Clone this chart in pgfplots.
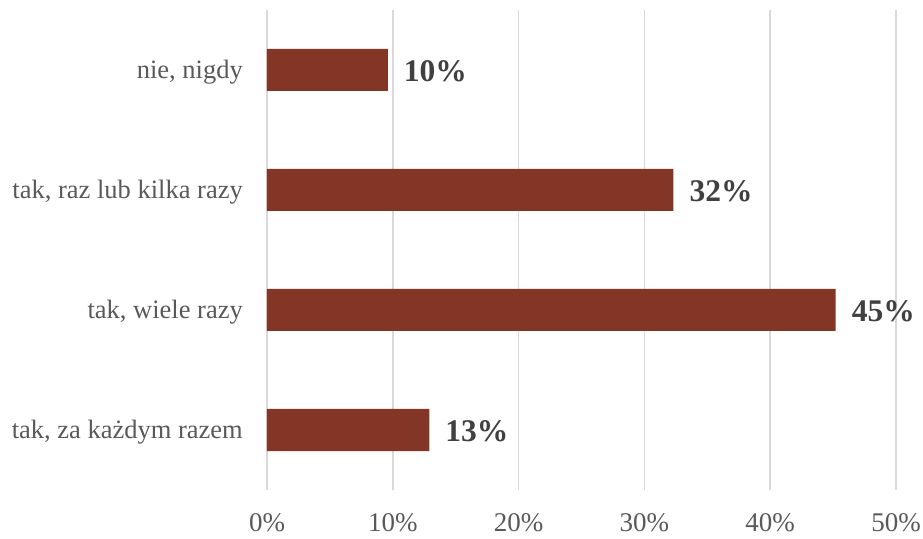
\documentclass[border=0pt]{standalone}
\usepackage{fontspec}
\setmainfont{Liberation Serif}
\usepackage{pgfplots}
\pgfplotsset{compat=1.18}
\definecolor{barc}{HTML}{843626}
\definecolor{gridc}{HTML}{D9D9D9}
\definecolor{tickc}{HTML}{595959}
\definecolor{labc}{HTML}{404040}
\begin{document}
\begin{tikzpicture}
\path[use as bounding box] (-267pt,-48pt) rectangle (656pt,490pt);
\begin{axis}[
  at={(0pt,0pt)}, anchor=south west,
  scale only axis,
  width=629pt, height=480pt,
  xbar,
  bar width=42pt,
  xmin=0, xmax=50,
  ymin=-0.5, ymax=3.5,
  xtick={0,10,20,30,40,50},
  xticklabel={\pgfmathprintnumber{\tick}\%},
  /pgf/number format/assume math mode=true,
  ytick={0,1,2,3},
  yticklabels={{tak, za każdym razem},{tak, wiele razy},{tak, raz lub kilka razy},{nie, nigdy}},
  xmajorgrids,
  major grid style={draw=gridc, line width=1.5pt},
  axis line style={draw=none},
  tick style={draw=none},
  major tick length=0pt,
  xticklabel style={font=\fontsize{27}{31}\selectfont, text=tickc, inner sep=0pt, anchor=north, yshift=-23pt},
  yticklabel style={font=\fontsize{26.5}{30}\selectfont, text=tickc, inner sep=0pt, anchor=base east, xshift=-24pt, yshift=-9pt},
  nodes near coords,
  point meta=explicit symbolic,
  every node near coord/.append style={font=\fontsize{31.5}{36}\selectfont\bfseries, text=labc, inner sep=0pt, anchor=base west, xshift=16pt, yshift=-11.5pt},
]
\addplot[fill=barc, draw=none] table[meta=lab] {
x y lab
12.9 0 13\%
45.2 1 45\%
32.3 2 32\%
9.6 3 10\%
};
\end{axis}
\end{tikzpicture}
\end{document}
